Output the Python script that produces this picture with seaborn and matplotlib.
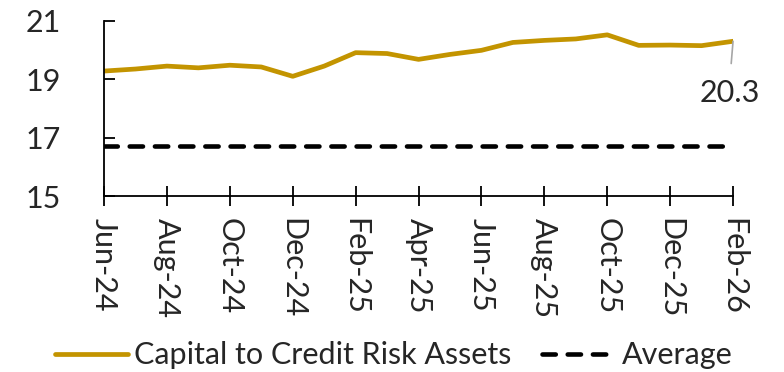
import matplotlib
matplotlib.use("Agg")
import matplotlib.pyplot as plt
import seaborn as sns
import pandas as pd

months = ["Jun-24", "Jul-24", "Aug-24", "Sep-24", "Oct-24", "Nov-24", "Dec-24",
          "Jan-25", "Feb-25", "Mar-25", "Apr-25", "May-25", "Jun-25", "Jul-25",
          "Aug-25", "Sep-25", "Oct-25", "Nov-25", "Dec-25", "Jan-26", "Feb-26"]
capital_ratio = [19.28, 19.35, 19.45, 19.39, 19.48, 19.42, 19.10, 19.45, 19.91,
                 19.88, 19.68, 19.85, 19.99, 20.26, 20.33, 20.38, 20.52, 20.16,
                 20.17, 20.15, 20.30]
average_value = 16.72
y_ticks = [15, 17, 19, 21]

df = pd.DataFrame({"idx": range(len(months)), "month": months,
                   "ratio": capital_ratio,
                   "avg": [average_value] * len(months)})

sns.set_theme(style="white")
plt.rcParams["font.family"] = ["Lato", "DejaVu Sans"]

fig = plt.figure(figsize=(7.84, 3.72), dpi=100)
ax = fig.add_axes([0.1327, 0.473, 0.8023, 0.471])

gold = "#C39400"
fs = 22
sns.lineplot(data=df, x="idx", y="ratio", ax=ax, color=gold, linewidth=3.4,
             label="Capital to Credit Risk Assets")
sns.lineplot(data=df, x="idx", y="avg", ax=ax, color="black", linewidth=3.3,
             linestyle=(0, (2.9, 2.6)), dash_capstyle="round",
             label="Average")

ax.set_xlim(0, len(months) - 1)
ax.set_ylim(15, 21)
ax.set_yticks(y_ticks)
ax.set_yticklabels([str(t) for t in y_ticks], fontsize=fs)
ax.set_xticks(range(0, len(months), 2))
ax.set_xticklabels(months[::2], rotation=270, fontsize=fs, va="top", ha="center")
ax.set_xlabel("")
ax.set_ylabel("")

for s in ["top", "right"]:
    ax.spines[s].set_visible(False)
for s in ["left", "bottom"]:
    ax.spines[s].set_color("black")
    ax.spines[s].set_linewidth(1.3)

ax.tick_params(axis="y", direction="in", length=8, width=1.3, color="black",
               left=True, pad=31)
ax.tick_params(axis="x", direction="inout", length=14, width=1.3, color="black",
               bottom=True, pad=9)

last_i = len(months) - 1
ax.annotate(f"{capital_ratio[-1]:.1f}", xy=(last_i, capital_ratio[-1]),
            xytext=(last_i - 0.1, 18.52), textcoords="data",
            fontsize=fs, ha="center", va="center",
            arrowprops=dict(arrowstyle="-", color="#A6A6A6", lw=1.2,
                            relpos=(0.5, 1.0), shrinkA=9, shrinkB=0))

leg = ax.legend(loc="center", bbox_to_anchor=(0.46, -0.91), ncol=2,
                frameon=False, fontsize=fs, handlelength=2.4,
                columnspacing=1.0, handletextpad=0.2)

fig.savefig("out.png", dpi=100)
